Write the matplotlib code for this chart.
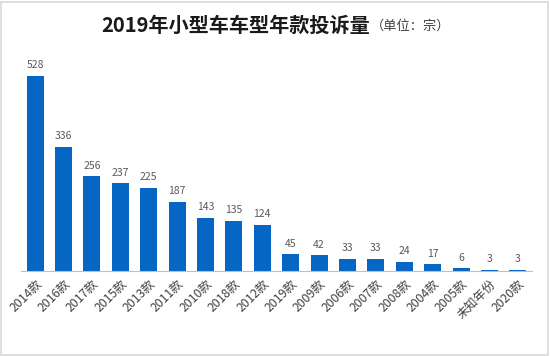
import matplotlib
matplotlib.use("Agg")
import matplotlib.pyplot as plt
from matplotlib.patches import Rectangle

plt.rcParams['font.family'] = ['Noto Sans CJK SC', 'DejaVu Sans']

categories = ["2014款", "2016款", "2017款", "2015款", "2013款", "2011款", "2010款", "2018款",
              "2012款", "2019款", "2009款", "2006款", "2007款", "2008款", "2004款", "2005款",
              "未知年份", "2020款"]
values = [528, 336, 256, 237, 225, 187, 143, 135, 124, 45, 42, 33, 33, 24, 17, 6, 3, 3]

W, H = 550, 356
fig = plt.figure(figsize=(W / 100, H / 100), dpi=100)
ax = fig.add_axes([21 / W, (H - 270.7) / H, (532 - 21) / W, (270.7 - 40) / H])

x = list(range(len(categories)))
bars = ax.bar(x, values, width=0.6, color="#0566C4", zorder=2)
ax.set_xlim(-0.5, len(categories) - 0.5)
ax.set_ylim(0, 625)

for xi, v in zip(x, values):
    ax.annotate(str(v), (xi, v), xytext=(0, 4), textcoords="offset points",
                ha="center", va="bottom", fontsize=7.5, color="#595959")

ax.set_xticks(x)
ax.set_xticklabels(categories, rotation=45, ha="right", va="top",
                   rotation_mode="anchor", fontsize=8.8, color="#404040")
ax.tick_params(axis="x", length=0, pad=5)
for lbl in ax.get_xticklabels():
    lbl.set_x(lbl.get_position()[0])
ax.set_yticks([])
for s in ["top", "right", "left"]:
    ax.spines[s].set_visible(False)
ax.spines["bottom"].set_color("#BFBFBF")
ax.spines["bottom"].set_linewidth(0.8)

fig.text(370 / W, (H - 25) / H, "2019年小型车车型年款投诉量", ha="right", va="center",
         fontsize=14.5, fontweight="bold", color="#1a1a1a")
fig.text(371 / W, (H - 26) / H, "（单位：宗）", ha="left", va="center",
         fontsize=9.5, color="#404040")

fig.patches.append(Rectangle((1 / W, 1 / H), (W - 3) / W, (H - 3) / H, transform=fig.transFigure,
                             fill=False, edgecolor="#D9D9D9", linewidth=1.2))

fig.savefig("out.png", dpi=100)
